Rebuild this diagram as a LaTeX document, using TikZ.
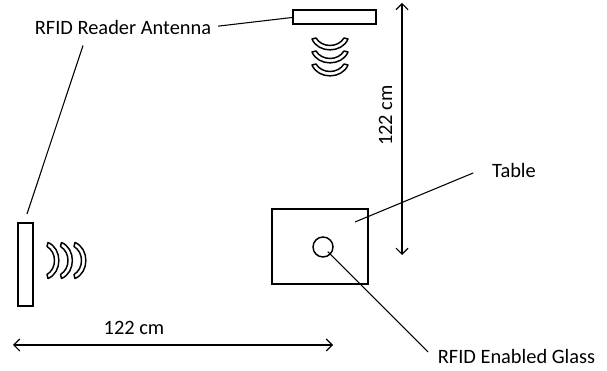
\documentclass[tikz,border=0pt]{standalone}
\usepackage{fontspec}
\setmainfont{Carlito}
\usetikzlibrary{arrows.meta,positioning}

\tikzset{
    wave/.pic={
        \draw[line width=1.1pt, line join=round, fill=white]
            (-18,2) .. controls (-12,-12.5) and (12,-12.5) .. (18,2)
            -- (14,3) .. controls (8,-7) and (-8,-7) .. (-14,3) -- cycle;
    }
}

\begin{document}
\begin{tikzpicture}[
    x=0.75pt, y=0.75pt,
    antenna/.style={draw, line width=1.5pt, inner sep=0pt},
    tablebox/.style={draw, line width=1.5pt, inner sep=0pt, minimum width=72pt, minimum height=56.25pt},
    lbl/.style={font=\fontsize{15.3}{18}\selectfont, anchor=base, inner sep=2pt},
    lead/.style={line width=0.8pt},
    dim/.style={{Straight Barb[length=4.5pt,width=9pt]}-{Straight Barb[length=4.5pt,width=9pt]}, line width=0.8pt}
]
    \useasboundingbox (0,0) rectangle (607,371);

    % antennas
    \node[antenna, minimum width=62.25pt, minimum height=10.5pt] (topant) at (334.5,353.5) {};
    \node[antenna, minimum width=11.25pt, minimum height=62.25pt] (leftant) at (25.5,106.5) {};

    % waves
    \foreach \y in {330,317,304}
        \pic at (330,\y) {wave};
    \foreach \x in {50,63.5,77}
        \pic[rotate=90] at (\x,110.5) {wave};

    % table and glass
    \node[tablebox] (table) at (320,124.5) {};
    \node[draw, circle, line width=1.1pt, minimum size=15pt, inner sep=0pt] (glass) at (323,124) {};

    % labels
    \node[lbl] (readerlbl) at (123,336.5) {RFID Reader Antenna};
    \node[lbl] (tablelbl) at (514,193.7) {Table};
    \node[lbl] (glasslbl) at (516.5,7.7) {RFID Enabled Glass};

    \draw[lead] ([xshift=3pt,yshift=1pt]readerlbl.east) -- (topant.west);
    \draw[lead] ([xshift=-30pt,yshift=-6pt]readerlbl.south) -- ([xshift=1.1pt,yshift=6pt]leftant.north);
    \coordinate (tablept) at (355,149);
    \draw[lead] ([xshift=-12pt,yshift=-2pt]tablelbl.west) -- (tablept);
    \coordinate (glasspt) at (428,19);
    \draw[lead] ([xshift=3.5pt,yshift=-3.5pt]glass.center) -- (glasspt);

    % dimensions
    \coordinate (hleft) at (13,26);
    \coordinate (hright) at (333,26);
    \draw[dim] (hleft) -- (hright);
    \node[lbl] (hdim) at (134,36) {122 cm};

    \coordinate (vtop) at (402,368);
    \coordinate (vbot) at (402,116);
    \draw[dim] (vtop) -- (vbot);
    \node[lbl, rotate=90] (vdim) at (392,255.5) {122 cm};
\end{tikzpicture}
\end{document}
